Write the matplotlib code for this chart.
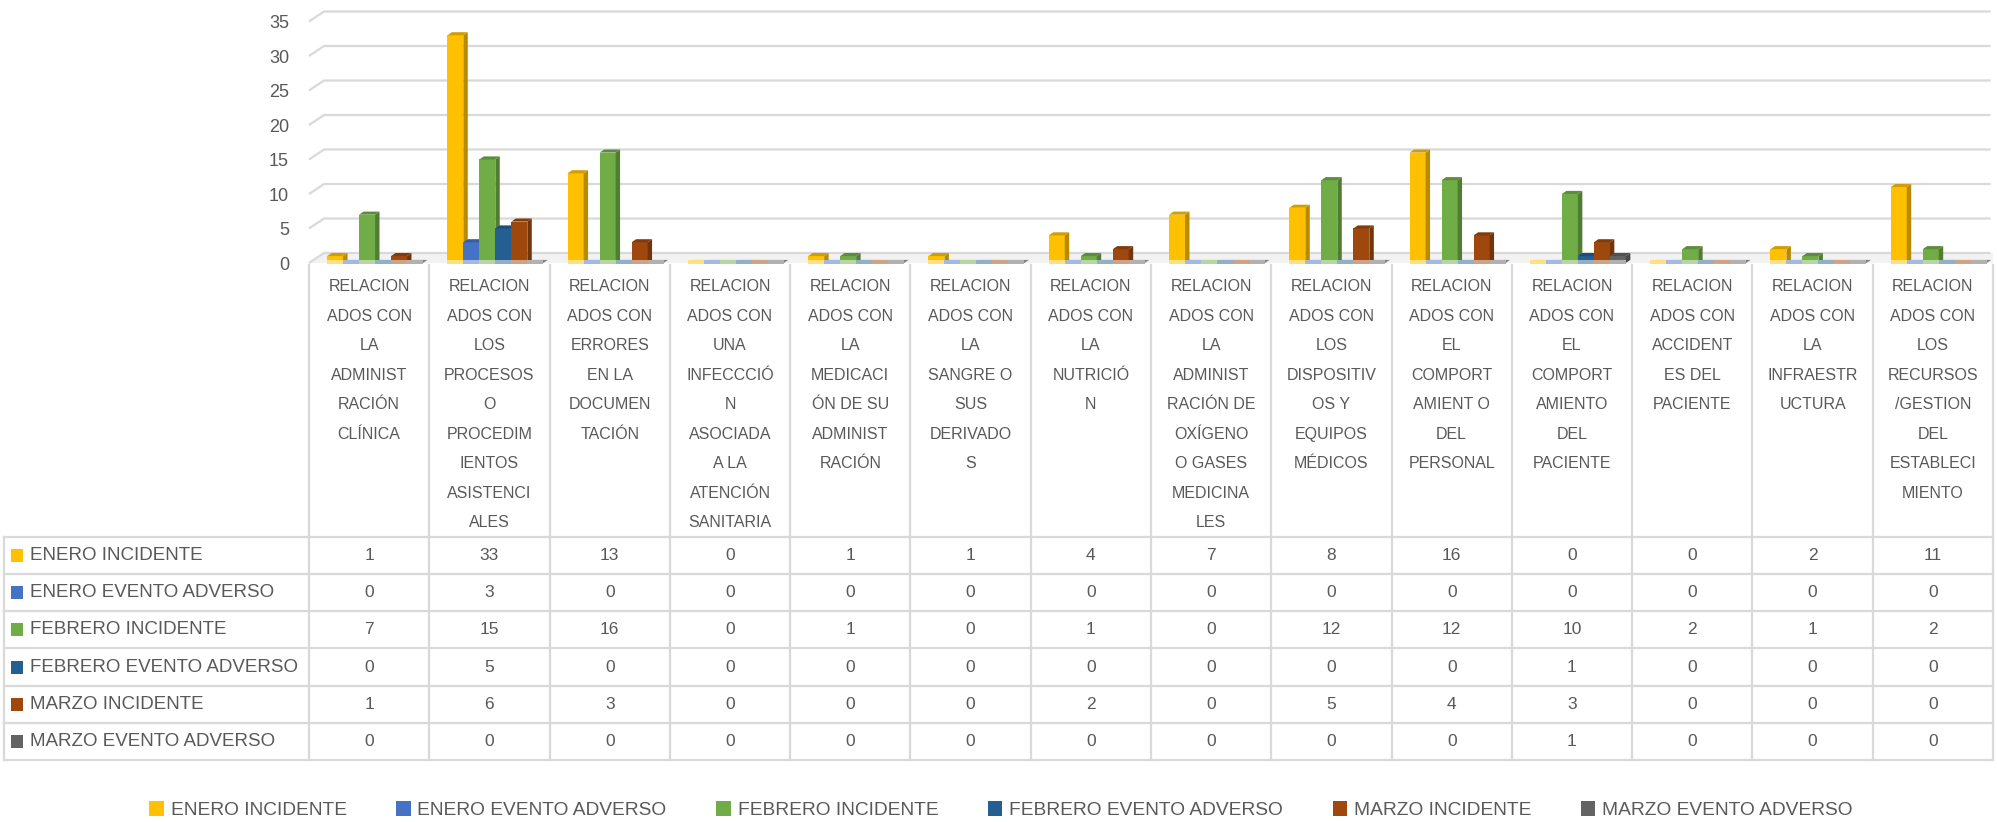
import numpy as np
import matplotlib
matplotlib.use("Agg")
import matplotlib.pyplot as plt
from matplotlib.patches import Polygon, Rectangle, Patch
from matplotlib.colors import to_rgb

plt.rcParams['font.family'] = ['Liberation Sans', 'DejaVu Sans']

# categorias (con los cortes de linea como en la tabla de Excel)
categorias = [
    "RELACION\nADOS CON\nLA\nADMINIST\nRACIÓN\nCLÍNICA",
    "RELACION\nADOS CON\nLOS\nPROCESOS\nO\nPROCEDIM\nIENTOS\nASISTENCI\nALES",
    "RELACION\nADOS CON\nERRORES\nEN LA\nDOCUMEN\nTACIÓN",
    "RELACION\nADOS CON\nUNA\nINFECCCIÓ\nN\nASOCIADA\nA LA\nATENCIÓN\nSANITARIA",
    "RELACION\nADOS CON\nLA\nMEDICACI\nÓN DE SU\nADMINIST\nRACIÓN",
    "RELACION\nADOS CON\nLA\nSANGRE O\nSUS\nDERIVADO\nS",
    "RELACION\nADOS CON\nLA\nNUTRICIÓ\nN",
    "RELACION\nADOS CON\nLA\nADMINIST\nRACIÓN DE\nOXÍGENO\nO GASES\nMEDICINA\nLES",
    "RELACION\nADOS CON\nLOS\nDISPOSITIV\nOS Y\nEQUIPOS\nMÉDICOS",
    "RELACION\nADOS CON\nEL\nCOMPORT\nAMIENT O\nDEL\nPERSONAL",
    "RELACION\nADOS CON\nEL\nCOMPORT\nAMIENTO\nDEL\nPACIENTE",
    "RELACION\nADOS CON\nACCIDENT\nES DEL\nPACIENTE",
    "RELACION\nADOS CON\nLA\nINFRAESTR\nUCTURA",
    "RELACION\nADOS CON\nLOS\nRECURSOS\n/GESTION\nDEL\nESTABLECI\nMIENTO",
]

series_nombres = ["ENERO INCIDENTE", "ENERO EVENTO ADVERSO", "FEBRERO INCIDENTE",
                  "FEBRERO EVENTO ADVERSO", "MARZO INCIDENTE", "MARZO EVENTO ADVERSO"]

enero_incidente = [1, 33, 13, 0, 1, 1, 4, 7, 8, 16, 0, 0, 2, 11]
enero_adverso = [0, 3, 0, 0, 0, 0, 0, 0, 0, 0, 0, 0, 0, 0]
febrero_incidente = [7, 15, 16, 0, 1, 0, 1, 0, 12, 12, 10, 2, 1, 2]
febrero_adverso = [0, 5, 0, 0, 0, 0, 0, 0, 0, 0, 1, 0, 0, 0]
marzo_incidente = [1, 6, 3, 0, 0, 0, 2, 0, 5, 4, 3, 0, 0, 0]
marzo_adverso = [0, 0, 0, 0, 0, 0, 0, 0, 0, 0, 1, 0, 0, 0]

valores = [enero_incidente, enero_adverso, febrero_incidente,
           febrero_adverso, marzo_incidente, marzo_adverso]
colores = ["#FFC000", "#4472C4", "#70AD47", "#255E91", "#9E480E", "#636363"]

yticks = [0, 5, 10, 15, 20, 25, 30, 35]

GRIS_TXT = "#595959"
GRIS_LIN = "#D9D9D9"
W, H = 1997, 822


def fx(px):
    return px / W


def fy(py):
    return 1 - py / H


def oscuro(c, f):
    r, g, b = to_rgb(c)
    return (r * f, g * f, b * f)


def claro(c, f):
    r, g, b = to_rgb(c)
    return (r + (1 - r) * f, g + (1 - g) * f, b + (1 - b) * f)


fig = plt.figure(figsize=(W / 100, H / 100), dpi=100)
n = len(categorias)

# ---- grafico de barras (pseudo 3D) ----
px_unidad = 6.9
y_top = 37
ax = fig.add_axes([fx(309), fy(263), fx(1993) - fx(309), y_top * px_unidad / H])
ax.set_xlim(-0.5, n - 0.5)
ax.set_ylim(0, y_top)
ax.axis("off")

prof_y = 1.45
prof_x = 0.125
ax.add_patch(Polygon([(-0.5, 0), (n - 0.5, 0), (n - 0.5, prof_y), (-0.5 + prof_x, prof_y)],
                     closed=True, facecolor="#F2F2F2", edgecolor="none", zorder=0.5))
for v in yticks:
    ax.plot([-0.5, -0.5 + prof_x, n - 0.52], [v, v + prof_y, v + prof_y],
            color=GRIS_LIN, lw=1.6, zorder=1, clip_on=False, solid_capstyle="butt")
    ax.text(-0.5 - 20 / 120.3, v - 0.3, str(v), ha="right", va="center",
            fontsize=13, color=GRIS_TXT)

slot = 0.133
dx, dy = 0.037, 0.45
for s, (vals, col) in enumerate(zip(valores, colores)):
    x0 = np.arange(n) - 0.35 + s * slot
    z = 3 + s * 4
    ax.bar(x0, vals, width=slot, align="edge", color=col, linewidth=0, zorder=z)
    for x, v in zip(x0, vals):
        if v > 0:
            ax.add_patch(Polygon([(x + slot, 0), (x + slot + dx, dy), (x + slot + dx, v + dy), (x + slot, v)],
                                 closed=True, facecolor=oscuro(col, 0.72), edgecolor="none", zorder=z + 1))
            cap = oscuro(col, 0.82)
        else:
            cap = claro(oscuro(col, 0.9), 0.25)
        ax.add_patch(Polygon([(x, v), (x + slot, v), (x + slot + dx, v + dy), (x + dx, v + dy)],
                             closed=True, facecolor=cap, edgecolor="none", zorder=z + 2))
        ax.add_patch(Rectangle((x, -0.2), slot, 0.6, facecolor=claro(col, 0.5),
                               edgecolor="none", zorder=z + 3, clip_on=False))

# ---- tabla de datos ----
lab_w = (309 - 4) / 120.3
row_px = 37.17
y_head = (537 - 265) / row_px
tax = fig.add_axes([fx(4), fy(760), fx(1993) - fx(4), (760 - 265) / H])
x_izq = -0.5 - lab_w
tax.set_xlim(x_izq, n - 0.5)
tax.set_ylim(0, 6 + y_head)
tax.axis("off")

for k in range(n + 1):
    tax.plot([k - 0.5, k - 0.5], [0, 6 + y_head], color=GRIS_LIN, lw=1.6, clip_on=False)
tax.plot([x_izq, x_izq], [0, 6], color=GRIS_LIN, lw=1.6, clip_on=False)
for r in range(7):
    tax.plot([x_izq, n - 0.5], [r, r], color=GRIS_LIN, lw=1.6, clip_on=False)

paso = 29.5 / row_px
y0 = 6 + y_head - (287 - 265) / row_px
for i, cat in enumerate(categorias):
    for k, linea in enumerate(cat.split("\n")):
        tax.text(i, y0 - k * paso, linea, ha="center", va="center",
                 fontsize=11.5, color=GRIS_TXT)

for r, (nombre, vals, col) in enumerate(zip(series_nombres, valores, colores)):
    yc = 5 - r + 0.5
    tax.add_patch(Rectangle((x_izq + 7 / 120.3, yc - 6.5 / row_px), 12 / 120.3, 13 / row_px,
                            facecolor=col, edgecolor="none"))
    tax.text(x_izq + 26 / 120.3, yc, nombre, ha="left", va="center", fontsize=13.5, color=GRIS_TXT)
    for i, v in enumerate(vals):
        tax.text(i, yc, str(v), ha="center", va="center", fontsize=12.5, color=GRIS_TXT)

# ---- leyenda ----
handles = [Patch(facecolor=c, edgecolor="none", label=nm) for nm, c in zip(series_nombres, colores)]
fig.legend(handles=handles, loc="center", bbox_to_anchor=(fx(1001), fy(810)), ncol=6,
           frameon=False, fontsize=13.8, labelcolor=GRIS_TXT, handlelength=0.75,
           handleheight=0.8, handletextpad=0.35, columnspacing=2.6)

fig.savefig("out.png", dpi=100)
